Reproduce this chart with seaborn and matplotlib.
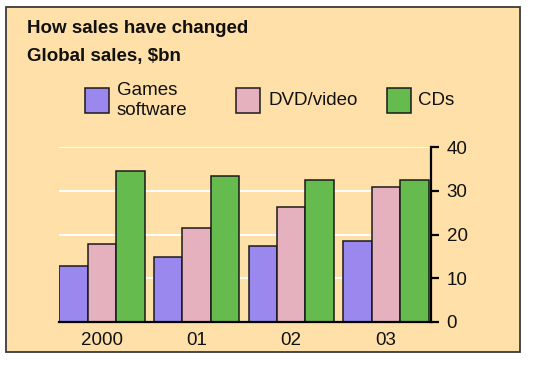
import pandas as pd
import matplotlib
matplotlib.use('Agg')
import matplotlib.pyplot as plt
from matplotlib.patches import Rectangle
import seaborn as sns

# values ($bn)
years = ['2000', '01', '02', '03']
games = [12.8, 14.9, 17.4, 18.6]
dvd = [17.9, 21.5, 26.3, 31.0]
cds = [34.6, 33.4, 32.5, 32.5]
products = ['Games software', 'DVD/video', 'CDs']
legend_labels = ['Games\nsoftware', 'DVD/video', 'CDs']
colors = ['#9b88ee', '#e5b1be', '#66bb4f']
y_ticks = [0, 10, 20, 30, 40]

BG = '#ffe0a9'
W, H = 533, 371
FS = 13.5

sns.set_style('white')
plt.rcParams['font.family'] = ['Liberation Sans', 'DejaVu Sans']

df = pd.DataFrame({
    'year': years * 3,
    'sales': games + dvd + cds,
    'product': [p for p in products for _ in years],
})


def fx(px):
    return px / W


def fy(py):
    return 1 - py / H


fig = plt.figure(figsize=(W / 100, H / 100), dpi=100)
fig.patch.set_facecolor('white')

# orange panel with a thin dark border (kept behind the axes)
fig.patches.append(Rectangle((fx(6), fy(352)), fx(520 - 6), (352 - 7.3) / H,
                             transform=fig.transFigure, facecolor=BG,
                             edgecolor='#3a3a3a', linewidth=1.3, zorder=-5))

ax = fig.add_axes([fx(59.3), fy(321.7), fx(430.7 - 59.3), (321.7 - 147.3) / H])
ax.set_facecolor('none')

sns.barplot(data=df, x='year', y='sales', hue='product', hue_order=products,
            palette=colors, saturation=1, width=0.9, gap=0, edgecolor='#1a1a1a',
            linewidth=1.1, legend=False, ax=ax)

ax.set_xlim(-0.45, 3.473)
ax.set_ylim(0, 40)
ax.set_yticks(y_ticks)
ax.set_xlabel('')
ax.set_ylabel('')
ax.set_axisbelow(True)
ax.yaxis.grid(True, color='white', linewidth=1.4)
ax.xaxis.grid(False)

for side in ['top', 'left']:
    ax.spines[side].set_visible(False)
for side in ['bottom', 'right']:
    ax.spines[side].set_visible(True)
    ax.spines[side].set_color('black')
    ax.spines[side].set_linewidth(1.6)

ax.yaxis.tick_right()
ax.tick_params(axis='y', which='both', right=True, left=False, length=5.5, width=1.6,
               color='black', pad=6, labelsize=FS, labelcolor='#111111')
ax.tick_params(axis='x', bottom=False, pad=4, labelsize=FS, labelcolor='#111111')

# titles
fig.text(fx(26.7), fy(33.3), 'How sales have changed', fontsize=FS,
         fontweight='bold', va='baseline', ha='left', color='#111111')
fig.text(fx(26.7), fy(60.7), 'Global sales, $bn', fontsize=FS,
         fontweight='bold', va='baseline', ha='left', color='#111111')

# legend drawn by hand to keep the uneven spacing of the original
patch_x = [85, 236, 387]
text_x = [116.7, 268, 418]
for px, tx, lab, col in zip(patch_x, text_x, legend_labels, colors):
    fig.patches.append(Rectangle((fx(px), fy(112.7)), fx(24), 24.4 / H,
                                 transform=fig.transFigure, facecolor=col,
                                 edgecolor='#1a1a1a', linewidth=1.1, zorder=2))
    fig.text(fx(tx), fy(100.5), lab, fontsize=FS, va='center', ha='left',
             color='#111111', linespacing=1.2)

fig.savefig('out.png', dpi=100, facecolor=fig.get_facecolor())
